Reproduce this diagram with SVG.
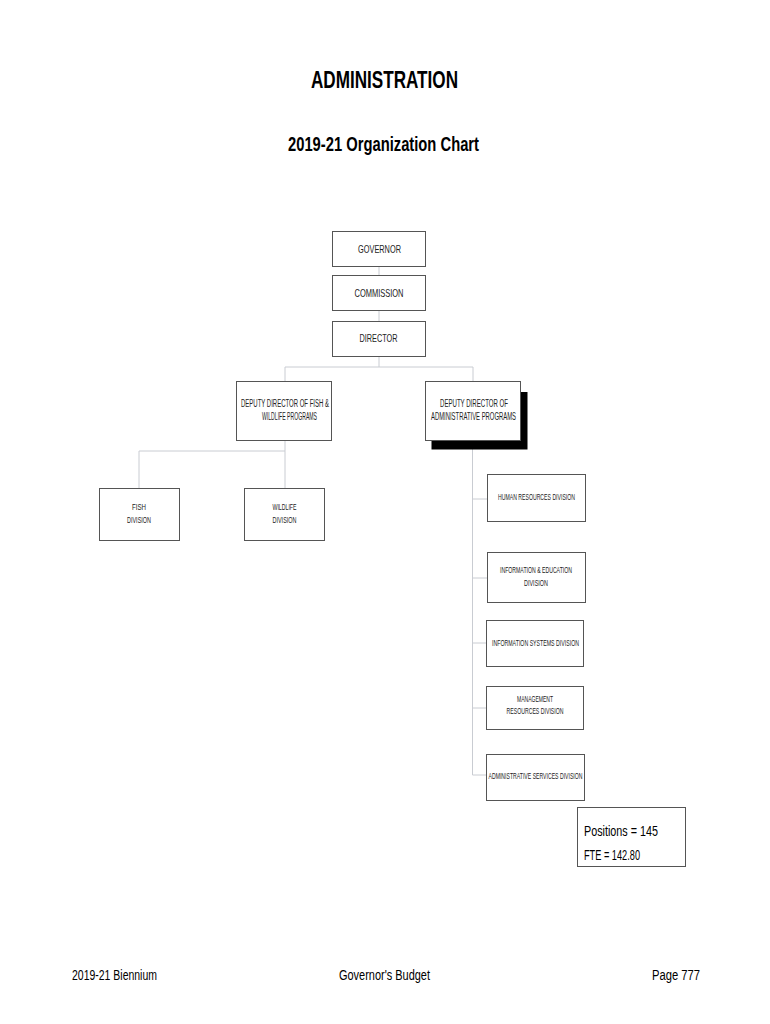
<svg xmlns="http://www.w3.org/2000/svg" width="770" height="1024" viewBox="0 0 770 1024">
<style>
.box{fill:#fff;stroke:#555;stroke-width:1}
.lbl{font-family:"Liberation Sans",Arial,sans-serif;font-size:9px;fill:#222;text-anchor:middle}
.big{font-size:11px}
.mid{font-size:10px}
.conn{fill:none;stroke:#c9ccd2;stroke-width:1}
.title{font-family:"Liberation Sans",Arial,sans-serif;font-weight:bold;fill:#000;text-anchor:middle}
.foot{font-family:"Liberation Sans",Arial,sans-serif;font-size:15.5px;fill:#000}
</style>
<rect width="770" height="1024" fill="#fff"/>
<text class="title" x="384.5" y="88" font-size="23" textLength="147" lengthAdjust="spacingAndGlyphs">ADMINISTRATION</text>
<text class="title" x="383.5" y="151" font-size="20" textLength="191" lengthAdjust="spacingAndGlyphs">2019-21 Organization Chart</text>

<g id="connectors">
<line class="conn" x1="379" y1="266" x2="379" y2="275"/>
<line class="conn" x1="379" y1="311" x2="379" y2="321"/>
<path class="conn" d="M379 357V367M285 381V367H473V381"/>
<path class="conn" d="M285 441V451H139V488M285 451V488"/>
<path class="conn" d="M472.5 449V775H486M472.5 499H487M472.5 578H487M472.5 643H487M472.5 708H487"/>
</g>

<g id="governor"><rect class="box" x="332.5" y="231.5" width="93" height="35"/><text class="lbl big" x="379.5" y="253" textLength="43" lengthAdjust="spacingAndGlyphs">GOVERNOR</text></g>
<g id="commission"><rect class="box" x="332.5" y="275.5" width="93" height="35"/><text class="lbl big" x="379" y="297" textLength="49" lengthAdjust="spacingAndGlyphs">COMMISSION</text></g>
<g id="director"><rect class="box" x="332.5" y="321.5" width="93" height="35"/><text class="lbl big" x="378.5" y="342" textLength="38" lengthAdjust="spacingAndGlyphs">DIRECTOR</text></g>

<g id="deputy-fw"><rect class="box" x="236.5" y="381.5" width="95" height="59"/>
<text class="lbl mid" x="285" y="407" textLength="88" lengthAdjust="spacingAndGlyphs">DEPUTY DIRECTOR OF FISH &amp;</text>
<text class="lbl mid" x="289.5" y="420" textLength="55" lengthAdjust="spacingAndGlyphs">WILDLIFE PROGRAMS</text></g>

<g id="deputy-admin"><rect x="431.5" y="392" width="96" height="57.5" fill="#000"/><rect class="box" x="425.5" y="381.5" width="95" height="59"/>
<text class="lbl mid" x="474" y="407" textLength="68" lengthAdjust="spacingAndGlyphs">DEPUTY DIRECTOR OF</text>
<text class="lbl mid" x="473.5" y="420" textLength="85" lengthAdjust="spacingAndGlyphs">ADMINISTRATIVE PROGRAMS</text></g>

<g id="fish"><rect class="box" x="99.5" y="488.5" width="80" height="52"/>
<text class="lbl" x="139" y="510" textLength="14" lengthAdjust="spacingAndGlyphs">FISH</text>
<text class="lbl" x="139" y="523" textLength="24" lengthAdjust="spacingAndGlyphs">DIVISION</text></g>

<g id="wildlife"><rect class="box" x="244.5" y="488.5" width="80" height="52"/>
<text class="lbl" x="284.5" y="510" textLength="24" lengthAdjust="spacingAndGlyphs">WILDLIFE</text>
<text class="lbl" x="284.5" y="523" textLength="24" lengthAdjust="spacingAndGlyphs">DIVISION</text></g>

<g id="hr"><rect class="box" x="487.5" y="474.5" width="98" height="47"/>
<text class="lbl" x="536.5" y="500" textLength="77" lengthAdjust="spacingAndGlyphs">HUMAN RESOURCES DIVISION</text></g>

<g id="info-ed"><rect class="box" x="487.5" y="552.5" width="98" height="50"/>
<text class="lbl" x="536" y="573" textLength="72" lengthAdjust="spacingAndGlyphs">INFORMATION &amp; EDUCATION</text>
<text class="lbl" x="536" y="586" textLength="24" lengthAdjust="spacingAndGlyphs">DIVISION</text></g>

<g id="info-sys"><rect class="box" x="486.5" y="620.5" width="97" height="46"/>
<text class="lbl" x="535.5" y="646" textLength="87" lengthAdjust="spacingAndGlyphs">INFORMATION SYSTEMS DIVISION</text></g>

<g id="mgmt"><rect class="box" x="486.5" y="686.5" width="97" height="43"/>
<text class="lbl" x="535" y="702" textLength="36" lengthAdjust="spacingAndGlyphs">MANAGEMENT</text>
<text class="lbl" x="535" y="714" textLength="57" lengthAdjust="spacingAndGlyphs">RESOURCES DIVISION</text></g>

<g id="admin-svc"><rect class="box" x="486.5" y="754.5" width="98" height="46"/>
<text class="lbl" x="535.5" y="779" textLength="94" lengthAdjust="spacingAndGlyphs">ADMINISTRATIVE SERVICES DIVISION</text></g>

<g id="positions"><rect class="box" x="577.5" y="807.5" width="108" height="59"/>
<text class="foot" x="584" y="836" font-size="17" textLength="74" lengthAdjust="spacingAndGlyphs">Positions = 145</text>
<text class="foot" x="584" y="860" font-size="17" textLength="56" lengthAdjust="spacingAndGlyphs">FTE = 142.80</text></g>

<text class="foot" x="72" y="980" textLength="85" lengthAdjust="spacingAndGlyphs">2019-21 Biennium</text>
<text class="foot" x="339" y="980" textLength="91" lengthAdjust="spacingAndGlyphs">Governor's Budget</text>
<text class="foot" x="652" y="980" textLength="48" lengthAdjust="spacingAndGlyphs">Page 777</text>
</svg>
